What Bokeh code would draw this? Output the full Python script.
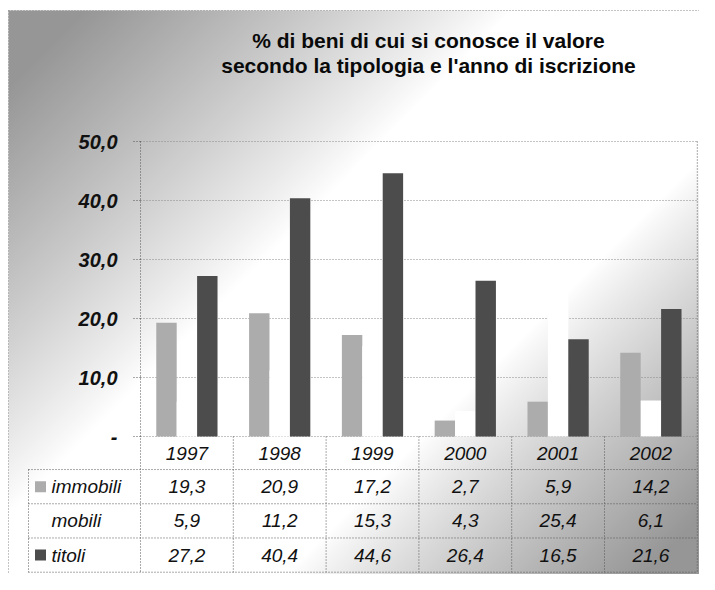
import numpy as np
from bokeh.plotting import figure
from bokeh.models import Range1d, ColumnDataSource
from bokeh.core.properties import value
from bokeh.embed import file_html
from bokeh.resources import INLINE

# ---------------- data ----------------
years = ["1997", "1998", "1999", "2000", "2001", "2002"]
series_names = ["immobili", "mobili", "titoli"]
immobili = [19.3, 20.9, 17.2, 2.7, 5.9, 14.2]
mobili = [5.9, 11.2, 15.3, 4.3, 25.4, 6.1]
titoli = [27.2, 40.4, 44.6, 26.4, 16.5, 21.6]
y_ticks = [0, 10, 20, 30, 40, 50]
y_tick_labels = ["-", "10,0", "20,0", "30,0", "40,0", "50,0"]
title_lines = ["% di beni di cui si conosce il valore",
               "secondo la tipologia e l'anno di iscrizione"]

# ---------------- layout (pixel geometry -> data units) ----------------
W, H = 699, 574
CAT_PX = 92.8          # width of one year column in px
UNIT_PX = 5.9          # px per percentage point
PLOT_LEFT = 140.0      # canvas x of the plot area's left edge
ZERO_Y = 436.0         # canvas y of the zero line
x0 = (0 - PLOT_LEFT) / CAT_PX
x1 = x0 + W / CAT_PX
y1 = ZERO_Y / UNIT_PX
y0 = y1 - H / UNIT_PX

def px_x(c):
    return (c - PLOT_LEFT) / CAT_PX

def px_y(c):
    return (ZERO_Y - c) / UNIT_PX

n = len(years)
ymax = y_ticks[-1]

p = figure(width=W, height=H, output_backend="svg", toolbar_location=None,
           x_range=Range1d(x0, x1), y_range=Range1d(y0, y1),
           min_border=0, outline_line_color=None)
p.axis.visible = False
p.grid.visible = False
p.background_fill_color = "white"
p.border_fill_color = "white"

# ---------------- background shading (decorative) ----------------
GW, GH = 350, 287
cx = (np.arange(GW) + 0.5) * (W / GW)
cy = H - (np.arange(GH) + 0.5) * (H / GH)
X, Y = np.meshgrid(cx, cy)
s = X + Y
t1 = np.clip((520 - s) / 430, 0, 1) ** 0.9
t2 = np.clip((s - 860) / 360, 0, 1) ** 0.9
t = np.maximum(t1, t2)
t[(Y < 10) | (X < 8)] = 0
g = (255 - 105 * t).astype(np.uint32)
rgba = ((255 << 24) | (g << 16) | (g << 8) | g).astype(np.uint32)
p.image_rgba(image=[rgba], x=x0, y=y0, dw=x1 - x0, dh=y1 - y0)

dot = dict(line_color="#555555", line_dash="1 2", line_width=1)
light_dot = dict(line_color="#888888", line_dash="1 2", line_width=1)

# outer border (left and top)
p.segment(x0=[px_x(8), px_x(8)], x1=[px_x(8), x1], y0=[px_y(10), px_y(10)],
          y1=[y0, px_y(10)], **light_dot)

# horizontal grid lines
p.segment(x0=[0] * len(y_ticks), x1=[n] * len(y_ticks), y0=y_ticks, y1=y_ticks, **light_dot)
# small tick stubs
p.segment(x0=[px_x(133)] * len(y_ticks), x1=[0] * len(y_ticks), y0=y_ticks, y1=y_ticks, **dot)

# ---------------- table geometry ----------------
header_h = 5.6
row_h = 5.8
row_lines = [-header_h - i * row_h for i in range(len(series_names) + 1)]
table_bottom = row_lines[-1]
label_left = px_x(28)

# vertical borders
p.segment(x0=[0, n], x1=[0, n], y0=[ymax, ymax], y1=[table_bottom, table_bottom], **dot)
p.segment(x0=list(range(1, n)), x1=list(range(1, n)), y0=[0] * (n - 1),
          y1=[table_bottom] * (n - 1), **dot)
p.segment(x0=[label_left], x1=[label_left], y0=[row_lines[0]], y1=[table_bottom], **dot)
# horizontal borders
p.segment(x0=[label_left] * len(row_lines), x1=[n] * len(row_lines),
          y0=row_lines, y1=row_lines, **dot)

# ---------------- bars ----------------
colors = ["#acacac", "#ffffff", "#4c4c4c"]
offsets = [-0.22, 0.0, 0.22]
bw = 0.22
centers = np.arange(n) + 0.5
for vals, off, col in zip([immobili, mobili, titoli], offsets, colors):
    src = ColumnDataSource(dict(x=centers + off, top=vals))
    p.vbar(x="x", top="top", bottom=0, width=bw, source=src,
           fill_color=col, line_color=None)

# ---------------- y tick labels ----------------
p.text(x=[px_x(117)] * len(y_ticks), y=y_ticks, text=y_tick_labels,
       text_align="right", text_baseline="middle",
       text_font=value("Liberation Sans"), text_font_style="bold italic",
       text_font_size="20px", text_color="#111111")

# ---------------- title ----------------
p.text(x=[px_x(428)] * 2, y=[px_y(40), px_y(65)], text=title_lines,
       text_align="center", text_baseline="middle",
       text_font=value("Liberation Sans"), text_font_style="bold",
       text_font_size="21px", text_color="#0a0a0a")

# ---------------- table text ----------------
tfont = dict(text_font=value("Liberation Sans"), text_font_style="italic",
             text_font_size="19px", text_color="#111111", text_baseline="middle")
p.text(x=list(centers), y=[-header_h / 2] * n, text=years, text_align="center", **tfont)

row_centers = [(row_lines[i] + row_lines[i + 1]) / 2 for i in range(len(series_names))]

def fmt(v):
    return f"{v:.1f}".replace(".", ",")

for vals, yc in zip([immobili, mobili, titoli], row_centers):
    p.text(x=list(centers), y=[yc] * n, text=[fmt(v) for v in vals],
           text_align="center", **tfont)

# legend labels and swatches
p.text(x=[px_x(51)] * len(series_names), y=row_centers, text=series_names,
       text_align="left", **tfont)
p.scatter(x=[px_x(40)] * len(series_names), y=row_centers, marker="square",
          size=11, fill_color=colors, line_color=None)

open("out.html", "w").write(file_html(p, INLINE))
